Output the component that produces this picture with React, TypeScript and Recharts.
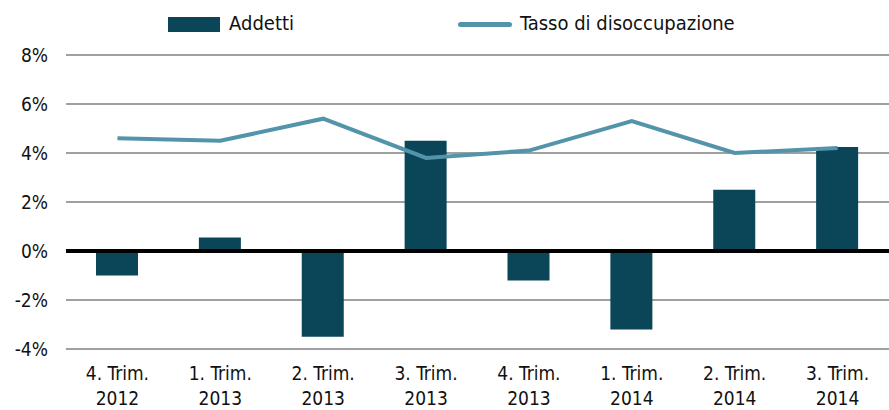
import {
  ComposedChart,
  Bar,
  Line,
  XAxis,
  YAxis,
  CartesianGrid,
  Legend,
  ReferenceLine,
} from 'recharts';

const quarters = ['4. Trim.', '1. Trim.', '2. Trim.', '3. Trim.', '4. Trim.', '1. Trim.', '2. Trim.', '3. Trim.'];
const years = ['2012', '2013', '2013', '2013', '2013', '2014', '2014', '2014'];
const addetti = [-1.0, 0.55, -3.5, 4.5, -1.2, -3.2, 2.5, 4.25];
const disoccupazione = [4.6, 4.5, 5.4, 3.8, 4.1, 5.3, 4.0, 4.2];
const yTicks = [-4, -2, 0, 2, 4, 6, 8];

const BAR_COLOR = '#0a4558';
const LINE_COLOR = '#5494aa';
const FONT = "'DejaVu Sans Condensed', 'DejaVu Sans', sans-serif";

const data = quarters.map((q, i) => ({
  name: `${q} ${years[i]}`,
  Addetti: addetti[i],
  Tasso: disoccupazione[i],
}));

const XTick = (props: any) => {
  const { x, y, index } = props;
  return (
    <text
      x={x}
      y={y}
      textAnchor="middle"
      fontFamily={FONT}
      fontSize={19}
      fill="#111"
      style={{ fontStretch: 'condensed' }}
    >
      <tspan x={x} dy={23}>{quarters[index]}</tspan>
      <tspan x={x} dy={25}>{years[index]}</tspan>
    </text>
  );
};

// legend is 40px tall, chart top margin makes up the rest to put 8% at y=55
const renderLegend = () => (
  <div
    style={{
      position: 'relative',
      height: 40,
      fontFamily: FONT,
      fontStretch: 'condensed',
      fontSize: 20,
      color: '#111',
    }}
  >
    <div style={{ position: 'absolute', left: 168, top: 17, width: 52, height: 15, background: BAR_COLOR }} />
    <span style={{ position: 'absolute', left: 229, top: 11 }}>Addetti</span>
    <div style={{ position: 'absolute', left: 458, top: 22, width: 54, height: 5, borderRadius: 3, background: LINE_COLOR }} />
    <span style={{ position: 'absolute', left: 520, top: 11 }}>Tasso di disoccupazione</span>
  </div>
);

export default function App() {
  return (
    <div style={{ position: 'absolute', left: 0, top: 0, background: '#fff' }}>
      <ComposedChart
        width={889}
        height={410}
        data={data}
        margin={{ top: 15, right: 0, bottom: 0, left: 0 }}
        barSize={42}
      >
        <CartesianGrid vertical={false} stroke="#a0a0a0" strokeWidth={2} />
        <XAxis
          dataKey="name"
          axisLine={false}
          tickLine={false}
          interval={0}
          height={61}
          tick={<XTick />}
        />
        <YAxis
          domain={[-4, 8]}
          ticks={yTicks}
          width={66}
          axisLine={false}
          tickLine={false}
          tickMargin={12}
          tickFormatter={(v) => `${v}%`}
          tick={{ fontFamily: FONT, fontSize: 19, fill: '#111', style: { fontStretch: 'condensed' } }}
        />
        <Legend
          verticalAlign="top"
          content={renderLegend}
          wrapperStyle={{ top: 0, left: 0, width: 889, height: 40 }}
        />
        <Bar dataKey="Addetti" fill={BAR_COLOR} isAnimationActive={false} />
        <Line
          dataKey="Tasso"
          stroke={LINE_COLOR}
          strokeWidth={4}
          dot={false}
          activeDot={false}
          isAnimationActive={false}
        />
        <ReferenceLine y={0} stroke="#000" strokeWidth={4} />
      </ComposedChart>
    </div>
  );
}
